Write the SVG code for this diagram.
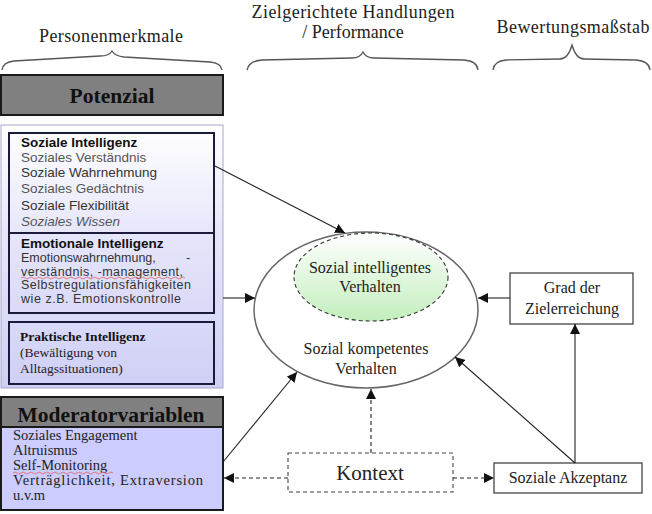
<svg xmlns="http://www.w3.org/2000/svg" width="652" height="514" viewBox="0 0 652 514">
<style>
.hdr{font-family:"Liberation Serif","Times New Roman",serif;font-size:18px;fill:#222;text-anchor:middle}
.brace{fill:none;stroke:#555;stroke-width:1.3}
.title{font-family:"Liberation Serif","Times New Roman",serif;font-weight:bold;font-size:21.5px;fill:#111;text-anchor:middle}
.sans{font-family:"Liberation Sans",Arial,sans-serif;font-size:13.5px;fill:#333}
.sanss{font-family:"Liberation Sans",Arial,sans-serif;font-size:12.5px;fill:#333}
.sansb{font-family:"Liberation Sans",Arial,sans-serif;font-size:13.5px;font-weight:bold;fill:#111}
.ser{font-family:"Liberation Serif","Times New Roman",serif;font-size:13.5px;fill:#222}
.serb{font-family:"Liberation Serif","Times New Roman",serif;font-size:13.5px;font-weight:bold;fill:#111}
.mod{font-family:"Liberation Serif","Times New Roman",serif;font-size:14.5px;fill:#222}
.lbl{font-family:"Liberation Serif","Times New Roman",serif;font-size:16px;fill:#222;text-anchor:middle}
.big{font-family:"Liberation Serif","Times New Roman",serif;font-size:21px;fill:#222;text-anchor:middle}
.inner{fill:none;stroke:#1a1a3a;stroke-width:2}
.conn{fill:none;stroke:#222;stroke-width:1.1}
.dash{stroke-dasharray:4,3}
.wavy{fill:none;stroke:#e06060;stroke-width:0.8}
</style>
<defs>
<linearGradient id="potGrad" x1="0" y1="0" x2="0" y2="1">
<stop offset="0" stop-color="#ffffff"/>
<stop offset="0.45" stop-color="#e4e4fa"/>
<stop offset="1" stop-color="#cfcff6"/>
</linearGradient>
<linearGradient id="greenGrad" x1="0" y1="0" x2="0" y2="1">
<stop offset="0" stop-color="#ffffff"/>
<stop offset="1" stop-color="#c2eebc"/>
</linearGradient>
<marker id="arr" viewBox="0 0 10 10" refX="10" refY="5" markerWidth="10" markerHeight="10" markerUnits="userSpaceOnUse" orient="auto">
<path d="M0,0 L10,5 L0,10 z" fill="#111"/>
</marker>
</defs>

<g id="headers">
<text class="hdr" x="111" y="42" textLength="144">Personenmerkmale</text>
<path class="brace" d="M2,70 Q3,62 14,61 L100,56 Q109,56 112,51 Q115,56 124,57 L210,62 Q221,63 222,70"/>
<text class="hdr" x="353" y="18" textLength="203">Zielgerichtete Handlungen</text>
<text class="hdr" x="353" y="38">/ Performance</text>
<path class="brace" d="M247,70 Q249,61 262,60 L352,58 Q360,58 363,52 Q366,58 374,58 L464,60 Q477,61 478,70"/>
<text class="hdr" x="573" y="33" textLength="153">Bewertungsmaßstab</text>
<path class="brace" d="M493,70 Q494,61 506,60 L560,59 Q568,59 572,45 Q576,59 584,59 L636,60 Q649,61 650,70"/>
</g>

<g id="potenzial">
<rect x="1" y="75" width="222" height="40" fill="#808080" stroke="#1a1a1a" stroke-width="2"/>
<text class="title" x="112" y="103">Potenzial</text>
</g>

<g id="potenzial-container">
<rect x="1" y="125" width="222" height="263" fill="url(#potGrad)" stroke="#a8a8c8" stroke-width="1"/>
</g>

<g id="soziale-intelligenz">
<rect class="inner" x="9" y="133" width="205" height="100"/>
<text class="sansb" x="21" y="147">Soziale Intelligenz</text>
<text class="sans" x="21" y="162" style="fill:#555">Soziales Verständnis</text>
<text class="sans" x="21" y="177">Soziale Wahrnehmung</text>
<text class="sans" x="21" y="193" style="fill:#555">Soziales Gedächtnis</text>
<text class="sans" x="21" y="210">Soziale Flexibilität</text>
<text class="sans" x="21" y="226" style="fill:#555;font-style:italic">Soziales Wissen</text>
</g>

<g id="emotionale-intelligenz">
<rect class="inner" x="9" y="233" width="205" height="80"/>
<text class="sansb" x="21" y="248">Emotionale Intelligenz</text>
<text class="sanss" x="21" y="262">Emotionswahrnehmung,</text>
<text class="sanss" x="186" y="262">-</text>
<text class="sanss" x="21" y="275.5" textLength="162">verständnis, -management,</text>
<path class="wavy" d="M21,278 q2,-2 4,0 t4,0 t4,0 t4,0 t4,0 t4,0 t4,0 t4,0 t4,0 t4,0 t4,0 t4,0 t4,0 t4,0 t4,0 t4,0 t4,0 t4,0 t4,0 t4,0 t4,0 t4,0 t4,0 t4,0 t4,0 t4,0 t4,0 t4,0 t4,0 t4,0 t4,0 t4,0 t4,0 t4,0 t4,0 t4,0 t4,0 t4,0 t4,0 t4,0 t4,0"/>
<text class="sanss" x="21" y="289" textLength="170">Selbstregulationsfähigkeiten</text>
<text class="sanss" x="21" y="302.5" textLength="160">wie z.B. Emotionskontrolle</text>
</g>

<g id="praktische-intelligenz">
<rect class="inner" x="9" y="322" width="205" height="62" fill="#d4d4f8"/>
<text class="serb" x="20" y="341">Praktische Intelligenz</text>
<text class="ser" x="20" y="357">(Bewältigung von</text>
<text class="ser" x="20" y="373">Alltagssituationen)</text>
</g>

<g id="moderatorvariablen">
<rect x="1" y="397" width="222" height="113" fill="#ccccff" stroke="#1a1a1a" stroke-width="2"/>
<rect x="1" y="397" width="222" height="30" fill="#808080" stroke="#1a1a1a" stroke-width="2"/>
<text class="title" x="111" y="422" textLength="187">Moderatorvariablen</text>
<text class="mod" x="13" y="440">Soziales Engagement</text>
<text class="mod" x="13" y="455">Altruismus</text>
<text class="mod" x="13" y="470">Self-Monitoring</text>
<path class="wavy" d="M13,473 q2,-2 4,0 t4,0 t4,0 t4,0 t4,0 t4,0 t4,0 t4,0 t4,0 t4,0 t4,0 t4,0 t4,0 t4,0 t4,0 t4,0 t4,0 t4,0 t4,0 t4,0 t4,0 t4,0 t4,0 t4,0 t4,0"/>
<text class="mod" x="13" y="485" textLength="190">Verträglichkeit, Extraversion</text>
<text class="mod" x="13" y="500">u.v.m</text>
</g>

<g id="sozial-kompetent">
<ellipse cx="366" cy="310" rx="112" ry="78" fill="#ffffff" stroke="#666" stroke-width="1.5"/>
<text class="lbl" x="366" y="354">Sozial kompetentes</text>
<text class="lbl" x="366" y="374">Verhalten</text>
</g>

<g id="sozial-intelligent">
<ellipse cx="371" cy="277" rx="77" ry="44" fill="url(#greenGrad)" stroke="#333" stroke-width="1.1" stroke-dasharray="4,3"/>
<text class="lbl" x="370" y="273">Sozial intelligentes</text>
<text class="lbl" x="370" y="292">Verhalten</text>
</g>

<g id="grad-der-zielerreichung">
<rect x="510" y="273" width="123" height="51" fill="#fff" stroke="#444" stroke-width="1.3"/>
<text class="lbl" x="572" y="293">Grad der</text>
<text class="lbl" x="572" y="314">Zielerreichung</text>
</g>

<g id="soziale-akzeptanz">
<rect x="494" y="463" width="148" height="30" fill="#fff" stroke="#444" stroke-width="1.3"/>
<text class="lbl" x="568" y="483">Soziale Akzeptanz</text>
</g>

<g id="kontext">
<rect x="288" y="453" width="165" height="39" fill="#fff" stroke="#444" stroke-width="1.1" stroke-dasharray="4,3"/>
<text class="big" x="370" y="480">Kontext</text>
</g>

<g id="connectors">
<line class="conn" x1="215" y1="166" x2="345" y2="233" marker-end="url(#arr)"/>
<line class="conn" x1="223" y1="298" x2="255" y2="298" marker-end="url(#arr)"/>
<line class="conn" x1="223" y1="462" x2="297" y2="372" marker-end="url(#arr)"/>
<line class="conn dash" x1="371" y1="453" x2="371" y2="389" marker-end="url(#arr)"/>
<line class="conn dash" x1="288" y1="478" x2="224" y2="478" marker-end="url(#arr)"/>
<line class="conn dash" x1="453" y1="478" x2="494" y2="478" marker-end="url(#arr)"/>
<line class="conn" x1="575" y1="463" x2="575" y2="324" marker-end="url(#arr)"/>
<line class="conn" x1="575" y1="463" x2="455" y2="357" marker-end="url(#arr)"/>
<line class="conn" x1="510" y1="298" x2="478" y2="298" marker-end="url(#arr)"/>
</g>
</svg>
